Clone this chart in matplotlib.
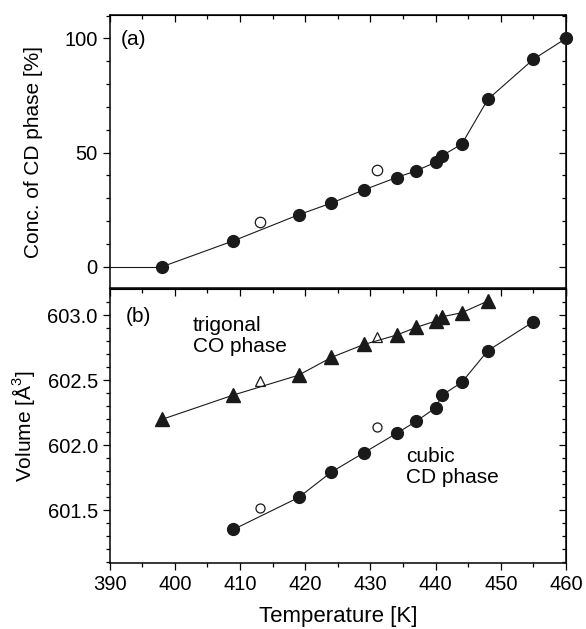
import numpy as np
import matplotlib
matplotlib.use('Agg')
import matplotlib.pyplot as plt
from matplotlib.ticker import MultipleLocator, FormatStrFormatter

plt.rcParams['font.family'] = ['Liberation Sans', 'DejaVu Sans']
plt.rcParams['mathtext.fontset'] = 'custom'
plt.rcParams['mathtext.rm'] = 'Liberation Sans'

# (a) Konzentration der CD-Phase
t_conc = [398, 409, 419, 424, 429, 434, 437, 440, 441, 444, 448, 455, 460]
conc = [0, 11.4, 22.8, 27.9, 33.7, 39.1, 42.0, 45.8, 48.7, 53.7, 73.3, 90.9, 100]
t_conc_open = [413, 431]
conc_open = [19.6, 42.3]

# (b) Volumen der trigonalen CO-Phase
t_tri = [398, 409, 419, 424, 429, 434, 437, 440, 441, 444, 448]
vol_tri = [602.197, 602.385, 602.538, 602.674, 602.774, 602.846, 602.905,
           602.954, 602.987, 603.018, 603.108]
t_tri_open = [413, 431]
vol_tri_open = [602.495, 602.833]

# (b) Volumen der kubischen CD-Phase
t_cub = [409, 419, 424, 429, 434, 437, 440, 441, 444, 448, 455]
vol_cub = [601.351, 601.597, 601.792, 601.941, 602.090, 602.182, 602.287,
           602.385, 602.482, 602.726, 602.949]
t_cub_open = [413, 431]
vol_cub_open = [601.518, 602.138]

fig = plt.figure(figsize=(5.86, 6.29), dpi=100)
ax1 = fig.add_axes([0.187, 0.542, 0.779, 0.434])
ax2 = fig.add_axes([0.187, 0.1054, 0.779, 0.4346])

col = '#1a1a1a'
fs_lab = 15
fs_tick = 14.5

# Panel (a)
ax1.plot([390, t_conc[0]], [0, conc[0]], color=col, lw=0.8)
ax1.plot(t_conc, conc, '-o', color=col, lw=0.8, ms=8.5, mfc=col, mec=col, clip_on=False, zorder=3)
ax1.plot(t_conc_open, conc_open, 'o', ms=7.5, mfc='white', mec=col, mew=0.9)
ax1.set_xlim(390, 460)
ax1.set_ylim(-9.3, 110.2)
ax1.yaxis.set_major_locator(MultipleLocator(50))
ax1.yaxis.set_minor_locator(MultipleLocator(10))
ax1.set_ylabel('Conc. of CD phase [%]', fontsize=fs_lab)
ax1.yaxis.set_label_coords(-0.145, 0.5)
ax1.text(0.025, 0.945, '(a)', transform=ax1.transAxes, fontsize=fs_lab, va='top')
ax1.tick_params(labelbottom=False)

# Panel (b)
ax2.errorbar(t_tri, vol_tri, yerr=0.04, fmt='-^', color=col, lw=0.8, elinewidth=0.8,
             capsize=0, ms=9.5, mfc=col, mec=col, zorder=3)
ax2.plot(t_tri_open, vol_tri_open, '^', ms=7, mfc='white', mec=col, mew=0.9)
ax2.plot(t_cub, vol_cub, '-o', color=col, lw=0.8, ms=8.5, mfc=col, mec=col, zorder=3)
ax2.plot(t_cub_open, vol_cub_open, 'o', ms=6.5, mfc='white', mec=col, mew=0.9)
ax2.set_xlim(390, 460)
ax2.set_ylim(601.095, 603.198)
ax2.yaxis.set_major_locator(MultipleLocator(0.5))
ax2.yaxis.set_minor_locator(MultipleLocator(0.1))
ax2.yaxis.set_major_formatter(FormatStrFormatter('%.1f'))
ax2.set_ylabel('Volume [Å$^3$]', fontsize=fs_lab)
ax2.yaxis.set_label_coords(-0.158, 0.5)
ax2.set_xlabel('Temperature [K]', fontsize=16)
ax2.xaxis.set_label_coords(0.5, -0.16)
ax2.text(0.035, 0.935, '(b)', transform=ax2.transAxes, fontsize=fs_lab, va='top')
ax2.text(402.8, 602.995, 'trigonal\nCO phase', fontsize=fs_lab, va='top', linespacing=1.15)
ax2.text(435.5, 601.985, 'cubic\nCD phase', fontsize=fs_lab, va='top', linespacing=1.15)

for ax in (ax1, ax2):
    ax.xaxis.set_major_locator(MultipleLocator(10))
    ax.xaxis.set_minor_locator(MultipleLocator(5))
    ax.tick_params(which='both', direction='out', labelsize=fs_tick, width=0.9)
    ax.tick_params(which='major', length=5)
    ax.tick_params(which='minor', length=3)
    for s in ax.spines.values():
        s.set_linewidth(1.1)
    # gespiegelte Ticks nach innen (oben/rechts)
    top = ax.secondary_xaxis('top')
    top.xaxis.set_major_locator(MultipleLocator(10))
    top.xaxis.set_minor_locator(MultipleLocator(5))
    top.tick_params(which='both', direction='in', labeltop=False, width=0.9)
    top.tick_params(which='major', length=5)
    top.tick_params(which='minor', length=3)
    right = ax.secondary_yaxis('right')
    right.yaxis.set_major_locator(ax.yaxis.get_major_locator())
    right.yaxis.set_minor_locator(ax.yaxis.get_minor_locator())
    right.tick_params(which='both', direction='in', labelright=False, width=0.9)
    right.tick_params(which='major', length=5)
    right.tick_params(which='minor', length=3)

fig.savefig('out.png', dpi=100)
